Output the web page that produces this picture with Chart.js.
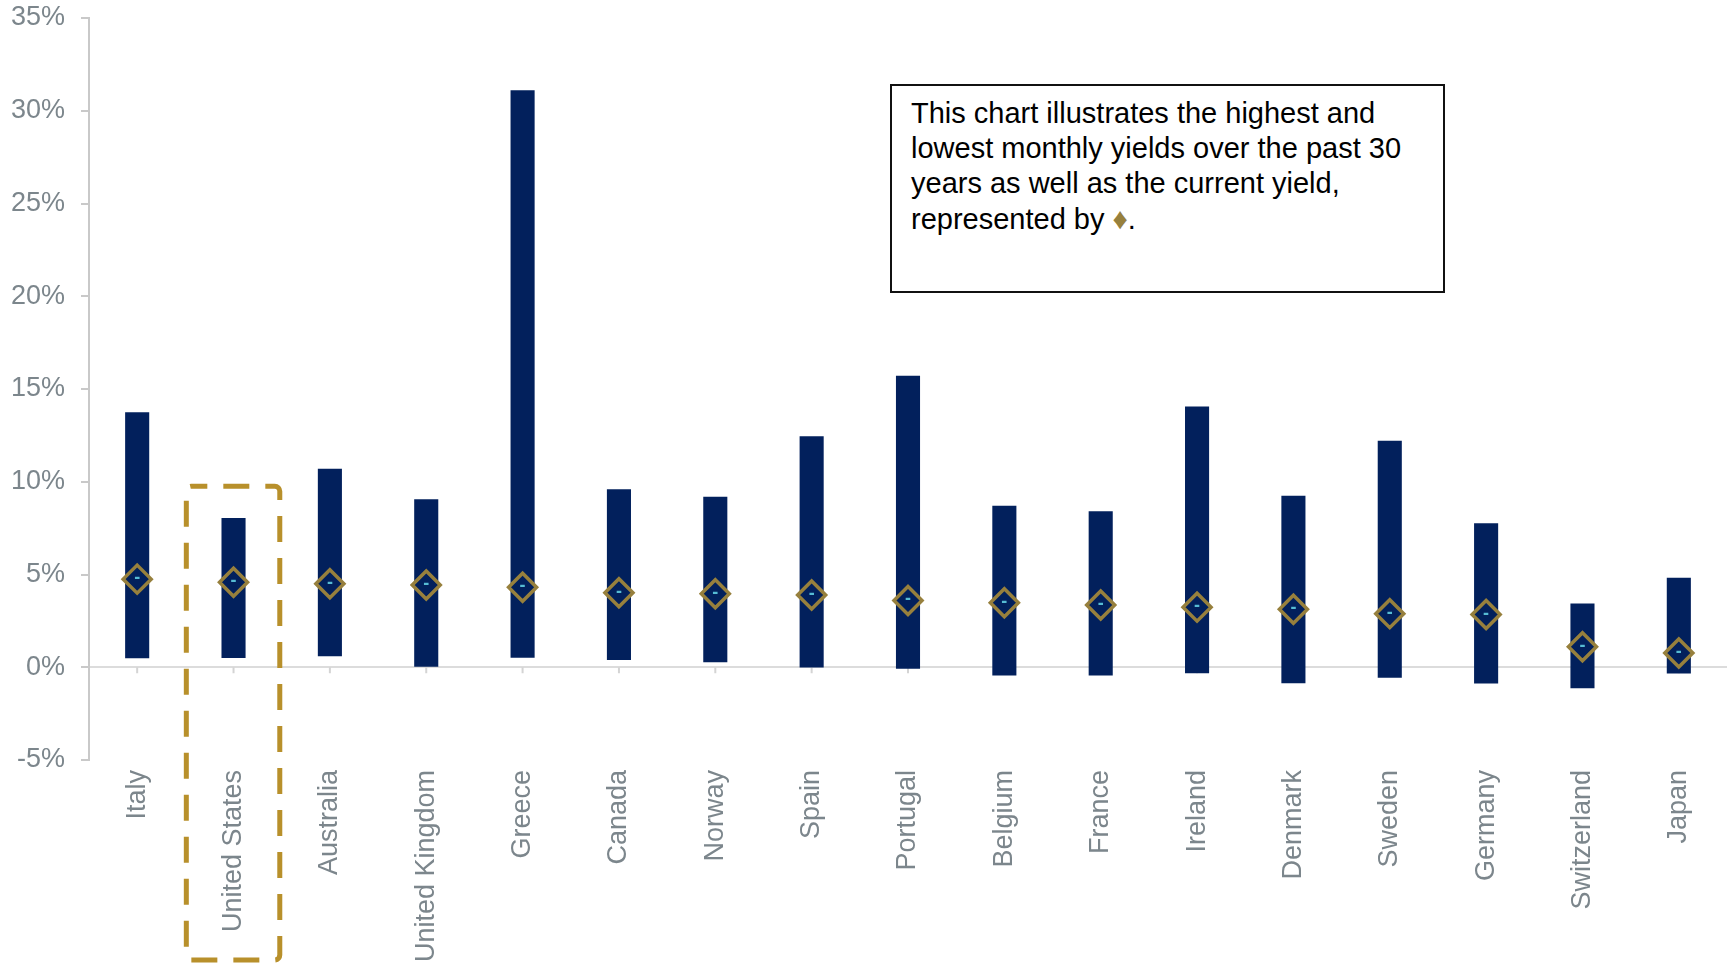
<!DOCTYPE html>
<html>
<head>
<meta charset="utf-8">
<script src="https://cdn.jsdelivr.net/npm/chart.js@4/dist/chart.umd.min.js"></script>
<style>
  html, body { margin: 0; padding: 0; background: #ffffff; overflow: hidden; }
  #wrap { position: relative; width: 1727px; height: 970px; overflow: hidden; }
  canvas { display: block; }
  #note {
    position: absolute; left: 890px; top: 84px; width: 551px; height: 205px;
    border: 2px solid #111; box-sizing: content-box; background: #fff;
    font-family: "Liberation Sans", Arial, sans-serif; font-size: 29px; line-height: 35px;
    color: #000; padding: 0;
  }
  #note div { position: absolute; left: 19px; top: 10px; right: 10px; }
  #note .dia { color: #97803d; font-size: 30px; }
</style>
</head>
<body>
<div id="wrap">
  <canvas id="c" width="1727" height="970"></canvas>
  <div id="note"><div>This chart illustrates the highest and lowest monthly yields over the past 30 years as well as the current yield, represented by <span class="dia">♦</span>.</div></div>
</div>
<script>
const countries = ["Italy","United States","Australia","United Kingdom","Greece","Canada","Norway","Spain","Portugal","Belgium","France","Ireland","Denmark","Sweden","Germany","Switzerland","Japan"];
const highYield = [13.75, 8.04, 10.7, 9.06, 31.1, 9.6, 9.19, 12.45, 15.72, 8.71, 8.41, 14.06, 9.25, 12.21, 7.76, 3.44, 4.82];
const lowYield  = [0.49, 0.50, 0.59, 0.03, 0.51, 0.39, 0.27, -0.02, -0.08, -0.44, -0.44, -0.32, -0.86, -0.56, -0.88, -1.13, -0.34];
const currentYield = [4.75, 4.58, 4.5, 4.43, 4.31, 4.02, 3.96, 3.9, 3.6, 3.48, 3.36, 3.24, 3.13, 2.89, 2.84, 1.1, 0.77];
const yTicks = [-5, 0, 5, 10, 15, 20, 25, 30, 35];
const highlightCategory = "United States";
const highlightTop = 9.76;

const FONT = '"Liberation Sans", Arial, sans-serif';
const GRAY = '#7c868c';

const rangeData = countries.map((c, i) => [lowYield[i], highYield[i]]);

const extras = {
  id: 'extras',
  beforeDatasetsDraw(chart) {
    const ctx = chart.ctx;
    const xs = chart.scales.x, ys = chart.scales.y;
    const y0 = ys.getPixelForValue(0);
    ctx.save();
    ctx.strokeStyle = '#d4d4d4';
    ctx.lineWidth = 2;
    countries.forEach((c, i) => {
      const x = xs.getPixelForTick(i);
      ctx.beginPath(); ctx.moveTo(x, y0); ctx.lineTo(x, y0 + 6); ctx.stroke();
    });
    ctx.restore();
  },
  afterDatasetsDraw(chart) {
    const ctx = chart.ctx;
    const xs = chart.scales.x, ys = chart.scales.y;
    ctx.save();
    const meta = chart.getDatasetMeta(1);
    ctx.fillStyle = '#56bcd4';
    ctx.font = 'bold 18px ' + FONT;
    ctx.textAlign = 'center';
    ctx.textBaseline = 'middle';
    meta.data.forEach(pt => { ctx.fillText('-', pt.x, pt.y - 1); });
    const idx = countries.indexOf(highlightCategory);
    const cx = xs.getPixelForTick(idx);
    const cw = (xs.right - xs.left) / countries.length;
    const left = cx - cw * 0.49, right = cx + cw * 0.48;
    const top = ys.getPixelForValue(highlightTop);
    const bottom = chart.height - 10;
    ctx.strokeStyle = '#b8902b';
    ctx.lineWidth = 5;
    ctx.setLineDash([26, 16]);
    ctx.lineDashOffset = 10;
    ctx.beginPath();
    ctx.roundRect(left, top, right - left, bottom - top, 5);
    ctx.stroke();
    ctx.restore();
  }
};

new Chart(document.getElementById('c'), {
  data: {
    labels: countries,
    datasets: [
      {
        type: 'bar',
        data: rangeData,
        backgroundColor: '#02205c',
        borderWidth: 0,
        borderSkipped: false,
        categoryPercentage: 1.0,
        barPercentage: 0.25,
        order: 2
      },
      {
        type: 'line',
        data: currentYield,
        showLine: false,
        pointStyle: 'rectRot',
        pointRadius: 14,
        pointHoverRadius: 14,
        pointBorderWidth: 3.5,
        pointBorderColor: '#97803d',
        pointBackgroundColor: 'rgba(0,0,0,0)',
        order: 1
      }
    ]
  },
  options: {
    responsive: false,
    animation: false,
    events: [],
    layout: { autoPadding: false, padding: { top: 18, right: 0, left: 0, bottom: 0 } },
    plugins: { legend: { display: false }, tooltip: { enabled: false } },
    scales: {
      x: {
        grid: { display: false },
        border: { display: false },
        ticks: {
          color: GRAY, font: { family: FONT, size: 27 },
          minRotation: 90, maxRotation: 90, padding: 2, autoSkip: false
        },
        afterFit(s) { s.height = 210; s.paddingLeft = 0; s.paddingRight = 0; }
      },
      y: {
        min: -5, max: 35,
        afterBuildTicks(s) { s.ticks = yTicks.map(v => ({ value: v })); },
        grid: {
          color: c => (c.tick && c.tick.value === 0) ? '#dcdcdc' : 'rgba(0,0,0,0)',
          lineWidth: 2,
          tickColor: '#c9c9c9',
          tickLength: 8,
          drawTicks: true
        },
        border: { display: true, color: '#c9c9c9', width: 2 },
        ticks: {
          color: GRAY, font: { family: FONT, size: 27 }, padding: 16,
          callback: v => v + '%'
        },
        afterFit(s) { s.width = 89; s.paddingTop = 0; s.paddingBottom = 0; }
      }
    }
  },
  plugins: [extras]
});
</script>
</body>
</html>
